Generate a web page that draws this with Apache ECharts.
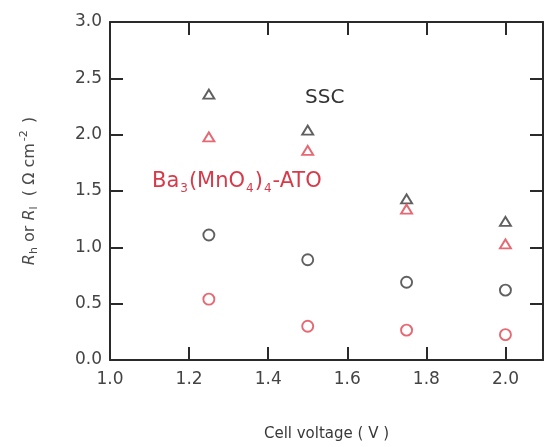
<!DOCTYPE html>
<html>
<head>
<meta charset="utf-8">
<script src="https://cdn.jsdelivr.net/npm/echarts@6/dist/echarts.min.js"></script>
<style>html,body{margin:0;padding:0;background:#fff;}#c{width:546px;height:447px;}</style>
</head>
<body>
<div id="c"></div>
<script>
var voltages = [1.25, 1.5, 1.75, 2.0];
var sscTriangle = [2.36, 2.04, 1.43, 1.23];
var batoTriangle = [1.98, 1.86, 1.34, 1.03];
var sscCircle = [1.11, 0.89, 0.69, 0.62];
var batoCircle = [0.54, 0.30, 0.265, 0.225];
var xTicks = ['1.0', '1.2', '1.4', '1.6', '1.8', '2.0'];
var yTicks = ['0.0', '0.5', '1.0', '1.5', '2.0', '2.5', '3.0'];

var BLACK = '#383838';
var RED = '#e0424f';
var TEXTRED = '#d83a4a';
var AXIS = '#2a2a2a';
var FONT = 'DejaVu Sans';

function pairs(ys) { return voltages.map(function (v, i) { return [v, ys[i]]; }); }
function fmtX(v) {
  var s = (Math.round(v * 10) / 10).toFixed(1);
  return xTicks.indexOf(s) >= 0 && Math.abs(v - parseFloat(s)) < 1e-6 ? s : '';
}
function fmtY(v) {
  var s = v.toFixed(1);
  return yTicks.indexOf(s) >= 0 ? s : '';
}
function scatter(name, ys, symbol, size, color) {
  return {
    name: name, type: 'scatter', data: pairs(ys), symbol: symbol, symbolSize: size,
    itemStyle: { color: 'rgba(255,255,255,0)', borderColor: color, borderWidth: 1.9 },
    xAxisIndex: 0, yAxisIndex: 0, silent: true
  };
}

var baseTick = { show: true, inside: true, length: 13, lineStyle: { color: AXIS, width: 2 } };
var baseLine = { show: true, onZero: false, lineStyle: { color: AXIS, width: 2 } };

var chart = echarts.init(document.getElementById('c'));
chart.setOption({
  backgroundColor: '#fff',
  animation: false,
  grid: { left: 110, right: 3, top: 22, bottom: 87 },
  xAxis: [{
    type: 'value', min: 1.0, max: 2.095, interval: 0.2, position: 'bottom',
    axisLine: baseLine, axisTick: baseTick, splitLine: { show: false },
    axisLabel: { formatter: fmtX, color: '#444', fontFamily: FONT, fontSize: 17, margin: 11, showMaxLabel: false },
    name: 'Cell voltage ( V )', nameLocation: 'middle', nameGap: 67,
    nameTextStyle: { color: '#383838', fontFamily: FONT, fontSize: 15 }
  }, {
    type: 'value', min: 1.0, max: 2.095, interval: 0.2, position: 'top',
    axisLine: baseLine, axisTick: baseTick, splitLine: { show: false }, axisLabel: { show: false }
  }],
  yAxis: [{
    type: 'value', min: 0, max: 3, interval: 0.5, position: 'left',
    axisLine: baseLine, axisTick: baseTick, splitLine: { show: false },
    axisLabel: { formatter: fmtY, color: '#444', fontFamily: FONT, fontSize: 17, margin: 8 },
    name: '{i|R}{s|h}{n| or }{i|R}{s|l}{n|  ( Ω cm}{p|-2}{n| )}',
    nameLocation: 'middle', nameRotate: 90, nameGap: 70,
    nameTextStyle: {
      color: '#4a4a4a', fontFamily: FONT, fontSize: 16,
      rich: {
        i: { fontStyle: 'italic', fontSize: 16, color: '#4a4a4a', fontFamily: FONT, verticalAlign: 'middle' },
        n: { fontSize: 16, color: '#4a4a4a', fontFamily: FONT, verticalAlign: 'middle' },
        s: { fontSize: 11, color: '#4a4a4a', fontFamily: FONT, verticalAlign: 'bottom', padding: [9, 0, 0, 0] },
        p: { fontSize: 11, color: '#4a4a4a', fontFamily: FONT, verticalAlign: 'top', padding: [0, 2, 10, 2] }
      }
    }
  }, {
    type: 'value', min: 0, max: 3, interval: 0.5, position: 'right',
    axisLine: baseLine, axisTick: baseTick, splitLine: { show: false }, axisLabel: { show: false }
  }],
  graphic: [{
    type: 'text', left: 305, top: 88, silent: true,
    style: { text: 'SSC', fill: '#333', font: '20px "DejaVu Sans"' }
  }, {
    type: 'text', left: 152, top: 171, silent: true,
    style: {
      text: '{n|Ba}{s|3}{n|(MnO}{s|4}{n|)}{s|4}{n|-ATO}',
      rich: {
        n: { fontSize: 21, fill: TEXTRED, fontFamily: FONT, verticalAlign: 'middle' },
        s: { fontSize: 12, fill: TEXTRED, fontFamily: FONT, verticalAlign: 'bottom', padding: [14, 1, 0, 1] }
      }
    }
  }],
  series: [
    scatter('SSC R_h', sscTriangle, 'triangle', [11, 9], BLACK),
    scatter('Ba3(MnO4)4-ATO R_h', batoTriangle, 'triangle', [11, 9], RED),
    scatter('SSC R_l', sscCircle, 'circle', 11, BLACK),
    scatter('Ba3(MnO4)4-ATO R_l', batoCircle, 'circle', 11, RED)
  ]
});
</script>
</body>
</html>
